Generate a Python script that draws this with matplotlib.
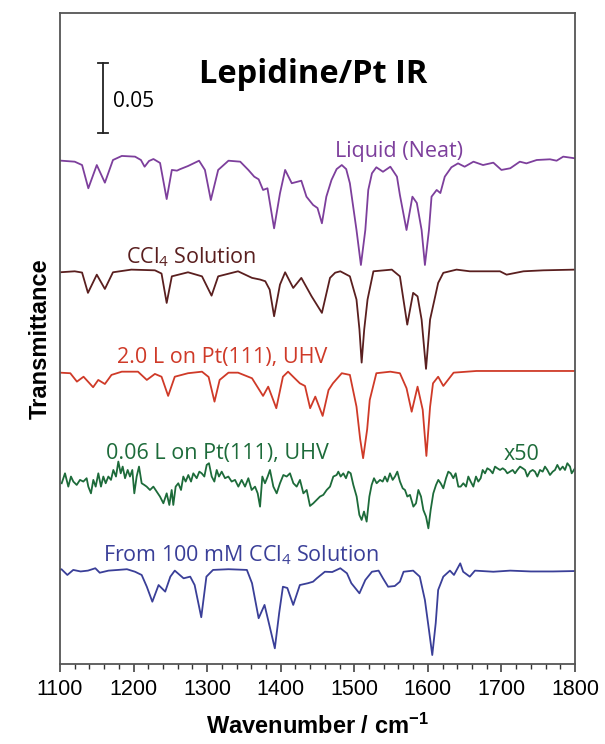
import numpy as np
import matplotlib.pyplot as plt
from matplotlib.ticker import MultipleLocator

plt.rcParams['mathtext.fontset'] = 'custom'
plt.rcParams['mathtext.rm'] = 'Open Sans'
plt.rcParams['mathtext.bf'] = 'Liberation Sans:bold'
plt.rcParams['mathtext.default'] = 'regular'

# transmittance change in units of 1e-3, relative to each trace baseline
liquid_wn = [1100, 1102, 1120, 1130, 1138.5, 1150, 1161, 1172, 1184, 1202, 1210, 1215, 1221, 1227,
             1236, 1245, 1252, 1259, 1263, 1274, 1289, 1297, 1305, 1315, 1329, 1345, 1356, 1364,
             1370, 1376, 1382, 1391, 1399, 1406, 1415, 1428, 1435, 1444, 1450, 1456, 1462, 1469,
             1476, 1483, 1489, 1494, 1503, 1509, 1515, 1519, 1524, 1530, 1539, 1549, 1558, 1562, 1571, 1579, 1585,
             1591.5, 1596, 1601.5, 1605, 1612, 1617, 1623, 1632, 1641, 1650, 1662, 1675, 1689,
             1700, 1712, 1725, 1734, 1748, 1766, 1775, 1784, 1800]
liquid_dt = [-0.4, -0.5, -1.2, -3.6, -20.2, -3.6, -16.2, 0.0, 2.9, 2.4, 0.0, -4.8, -0.7, 0.7,
             -2.1, -27.9, -7.1, -7.6, -6.6, -4.3, -0.5, -7.1, -28.6, -7.1, -0.5, -1.2, -7.1, -11.9,
             -13.8, -21.4, -20.2, -48.8, -23.8, -7.1, -16.6, -14.8, -26.2, -32.1, -34.3, -45.2, -26.2, -14.3,
             -6.5, -3.6, -6.5, -16.6, -50, -75, -50, -21.4, -9.5, -5.2, -8.4, -4.8, -11.9, -25, -50, -26.2, -30.7,
             -50, -75, -50, -26.2, -21.4, -23.6, -11.9, -5.2, -2.4, -4.8, -1.2, -3.6, -1.9,
             -7.1, -5.9, -1.2, -2.4, 0.0, 0.5, -0.5, 2.4, 1.2]

ccl4_wn = [1100, 1120, 1130, 1138, 1150, 1161, 1172, 1197, 1229, 1238, 1245, 1252, 1274, 1293,
           1306, 1315, 1342, 1361, 1372, 1379, 1385, 1391, 1399, 1406, 1417, 1428, 1442, 1456,
           1467, 1474, 1481, 1494, 1503, 1507, 1510, 1513.5, 1518, 1526, 1551, 1562, 1572, 1580, 1586,
           1591.5, 1597.5, 1603, 1614, 1621, 1639, 1657, 1680, 1698, 1707, 1730, 1757, 1800]
ccl4_dt = [-1.2, -0.5, -1.4, -15.9, -2.9, -13.1, -1.2, 0.7, 0.2, -2.1, -23.1, -4.1, -1.2, -4.1,
           -17.9, -4.1, -0.5, -5.2, -6.4, -7.6, -13.6, -32.6, -10, -1.2, -12.4, -5.2, -18.4, -30.2,
           -5.2, -1.5, -0.5, -4.1, -20.7, -42, -65.7, -42, -20.7, -0.5, 0.7, -4.1, -38.6, -15.9, -18.4,
           -35, -70.2, -35, -8.8, -1.6, 0.7, -0.5, -0.5, -0.5, -2.9, -0.5, 0.2, 0.7]

uhv2_wn = [1100, 1114, 1123, 1132, 1145, 1152, 1161, 1170, 1184, 1206, 1218, 1229, 1238, 1247,
           1256, 1274, 1293, 1302, 1310, 1317, 1329, 1342, 1361, 1376, 1383, 1394, 1403, 1410,
           1419, 1426, 1433, 1440, 1447, 1457, 1465, 1471, 1483, 1494, 1503, 1508, 1512, 1517.5,
           1521, 1530, 1549, 1562, 1571, 1578, 1586, 1593, 1598, 1603, 1607, 1614, 1621, 1635,
           1666, 1800]
uhv2_dt = [-0.5, -0.9, -6.9, -3.4, -10.9, -5.7, -8.6, -2.1, 0.2, 0.2, -5.7, -1.4, -3.4, -17.1,
           -3.4, -0.9, 0.2, -3.6, -21.2, -5.7, -0.5, -0.5, -4.5, -17.1, -10.5, -25.9, -3.4, 0.2,
           -4.5, -8.1, -10, -25.9, -17.6, -31.4, -12.9, -8.1, -0.9, -2.1, -24.8, -48, -61.6, -41,
           -20, -0.9, 0.2, -0.9, -11.6, -28.4, -10.5, -27, -60, -25, -8.1, -3.4, -10, -0.5,
           0.7, 0.7]

# 0.06 L spectrum, shown x50
uhv006_wn = [1102.3, 1106.8, 1111.3, 1114.9, 1118.1, 1122.7, 1127.2, 1131.7, 1136.2, 1138.5, 1142.1,
             1145.3, 1148.5, 1152.1, 1155.7, 1158.9, 1162.1, 1165.7, 1169.3, 1172.5, 1176.1, 1179.3,
             1182.5, 1185.2, 1188.4, 1192.0, 1195.1, 1198.3, 1201.0, 1204.2, 1207.4, 1211.0, 1214.6,
             1217.8, 1222.3, 1226.9, 1231.4, 1235.9, 1240.5, 1245.0, 1248.6, 1251.8, 1254.0, 1257.2,
             1260.8, 1264.5, 1267.6, 1270.8, 1274.4, 1278.1, 1281.2, 1285.8, 1289.4, 1292.6, 1296.2,
             1299.4, 1302.5, 1306.2, 1309.8, 1313.0, 1316.1, 1319.8, 1324.3, 1328.8, 1333.3, 1337.9,
             1342.4, 1346.9, 1351.5, 1356.0, 1360.5, 1365.1, 1368.7, 1371.9, 1375.0, 1378.6, 1382.3,
             1385.4, 1390.0, 1394.5, 1399.0, 1403.6, 1408.1, 1412.6, 1417.2, 1421.7, 1426.2, 1430.8,
             1435.3, 1439.8, 1444.3, 1448.9, 1453.4, 1457.9, 1462.5, 1467.0, 1471.5, 1476.0, 1478.3,
             1481.5, 1485.1, 1488.7, 1491.9, 1495.1, 1498.7, 1503.2, 1506.9, 1510.0, 1513.2, 1516.8,
             1520.5, 1523.6, 1526.8, 1530.4, 1535.0, 1538.6, 1541.7, 1544.9, 1548.5, 1552.2, 1555.3,
             1558.5, 1562.1, 1565.8, 1568.9, 1572.1, 1575.7, 1580.3, 1583.9, 1587.1, 1590.7, 1593.9,
             1597.5, 1600.7, 1603.8, 1607.4, 1611.1, 1614.2, 1617.4, 1621.0, 1624.7, 1627.8, 1631.0,
             1634.6, 1637.8, 1641.4, 1644.6, 1648.2, 1651.9, 1655.0, 1658.2, 1661.8, 1665.4, 1668.6,
             1671.8, 1674.5, 1677.7, 1680.8, 1684.5, 1688.1, 1691.3, 1694.4, 1698.1, 1701.7, 1704.9,
             1708.0, 1711.7, 1715.3, 1718.5, 1721.6, 1725.3, 1728.9, 1732.1, 1735.2, 1738.8, 1742.5,
             1745.6, 1748.8, 1752.4, 1756.1, 1759.2, 1762.4, 1766.0, 1769.7, 1772.8, 1776.0, 1779.6,
             1783.3, 1786.4, 1789.6, 1793.2, 1795.5, 1800.0]
uhv006_dt = [-3.8, 3.3, -6.2, 1.0, -2.6, -5.0, -1.4, -2.6, -0.2, -6.2, -11.0,
             -1.4, -6.2, 3.3, -6.2, 1.0, -3.8, 1.0, -1.4, 5.7, 1.0, 11.7,
             3.3, 8.1, -0.2, 5.7, 1.0, 5.7, -11.0, 1.0, 8.1, -3.8, -5.0,
             -6.2, -8.6, -6.2, -9.8, -13.3, -18.1, -11.0, -19.3, -8.6, -19.3, -6.2,
             -3.8, -8.6, 1.0, -2.6, 2.1, -2.6, 3.3, -0.2, 4.5, 3.3, 1.0,
             9.3, 10.5, 1.0, -2.6, 5.7, 1.0, 4.5, -0.2, 1.0, -2.6, -1.4,
             -6.2, -1.4, -6.2, -0.2, -8.6, -6.2, -11.0, -20.5, 1.0, -3.8, 1.0,
             5.7, -6.2, -11.0, -3.8, 2.1, 1.0, 3.3, -3.8, -6.2, -1.4, -11.0,
             -8.6, -20.0, -18.1, -15.7, -13.3, -12.1, -8.6, -6.2, 1.0, 2.1, 4.5,
             1.0, 3.3, -0.2, 4.5, 3.3, -5.0, -13.3, -26.4, -30.0, -24.0, -31.2,
             -13.3, -5.0, -0.2, -3.8, -1.4, -2.6, 1.0, -2.6, 3.3, -1.4, 1.0,
             4.5, -2.6, -7.4, -8.6, -13.3, -12.1, -20.5, -18.1, -8.6, -13.3, -22.9,
             -27.6, -36.0, -22.9, -11.0, -5.0, -1.4, -3.8, -7.4, -0.2, 4.5, 3.3,
             -0.2, 3.3, -6.2, -6.2, -3.8, -6.2, 1.0, -2.6, -6.2, 1.0, -2.6,
             -0.2, 5.7, 3.3, 6.9, 5.7, 3.3, 8.1, 6.9, 5.7, 6.9, 5.7,
             3.3, 4.5, 5.7, 3.3, 5.7, 8.1, 6.9, 5.7, 1.0, 4.5, 5.7,
             4.5, 1.0, 5.7, 4.5, 8.1, 5.7, 2.1, 4.5, 5.7, 9.3, 5.7,
             8.1, 5.7, 10.5, 8.1, 3.3, 6.9]

sol100_wn = [1100, 1102, 1110, 1118, 1128, 1138, 1148, 1154, 1166, 1179, 1191, 1202, 1211, 1218,
             1225.5, 1234, 1243, 1250, 1256, 1268, 1277, 1283, 1292, 1299, 1308, 1329, 1354, 1361,
             1370, 1378, 1385, 1392, 1398, 1403, 1409, 1417, 1426, 1437, 1444, 1449, 1460, 1470,
             1481, 1490, 1496, 1507, 1515, 1524, 1533, 1539, 1546, 1555, 1562, 1567, 1580, 1589,
             1596, 1601.5, 1606, 1610.7, 1614, 1621, 1630, 1635.5, 1644, 1648, 1657, 1664, 1689,
             1712, 1740, 1770, 1800]
sol100_dt = [0.7, 0.9, -3.2, 0.4, -0.7, -0.1, 1.6, -1.6, -0.1, 0.4, 0.9, -0.9, -3.2, -11.6,
             -22.3, -10.4, -15.1, -4.4, -0.1, -5.6, -4.4, -10.4, -33.4, -4.4, 0.4, 0.9, 0.4, -9.1,
             -34.1, -24.6, -40, -55.6, -30, -11.6, -12.5, -24.6, -10.4, -9.1, -8.0, -5.6, -0.9, -1.1,
             1.6, -2.0, -9.1, -16.3, -6.8, -0.9, -0.1, -5.6, -11.6, -11.1, -8.0, -0.9, -0.1, -4.4,
             -21.1, -42.5, -60.4, -37.5, -13.9, -4.4, -0.1, -3.2, 5.1, -0.9, -4.4, -0.1, -0.9,
             -0.1, -0.7, -0.7, -0.4]

labels = ['Liquid (Neat)', 'CCl$_4$ Solution', '2.0 L on Pt(111), UHV',
          '0.06 L on Pt(111), UHV', 'From 100 mM CCl$_4$ Solution']
offsets = [360, 281, 208.6, 132.9, 66.8]
colors = ['#7d3f9c', '#5a1f1f', '#cf3a28', '#1d6b3a', '#3a3f98']
label_pos = [(1561, 362.4), (1278, 286.2), (1320, 214.8), (1314, 146.2), (1346.5, 73.1)]

spectra = [(liquid_wn, liquid_dt), (ccl4_wn, ccl4_dt), (uhv2_wn, uhv2_dt),
           (uhv006_wn, uhv006_dt), (sol100_wn, sol100_dt)]

fig = plt.figure(figsize=(6.05, 7.44), dpi=100)
ax = fig.add_axes([60 / 605, 1 - 664 / 744, 515 / 605, 651 / 744])

for (wn, dt), off, col, lab, (lx, ly) in zip(spectra, offsets, colors, labels, label_pos):
    ax.plot(wn, np.array(dt) + off, color=col, lw=1.3, solid_joinstyle='round')
    ax.text(lx, ly, lab, color=col, fontsize=15.5, family='Open Sans',
            ha='center', va='baseline')

ax.text(1727.5, 145.7, 'x50', color=colors[3], fontsize=15.5, family='Open Sans',
        ha='center', va='baseline')

# scale bar 0.05
ax.plot([1158.5, 1158.5], [379.3, 429.3], color='#222', lw=1.3)
ax.plot([1152, 1165], [429.3, 429.3], color='#222', lw=1.3)
ax.plot([1152, 1165], [379.3, 379.3], color='#222', lw=1.3)
ax.text(1172, 402, '0.05', fontsize=15, family='Open Sans', va='center', ha='left')

ax.text(1444, 421, 'Lepidine/Pt IR', fontsize=23.5, family='Open Sans', weight='bold',
        ha='center', va='center')

ax.set_xlim(1100, 1800)
ax.set_ylim(0, 465)
ax.xaxis.set_major_locator(MultipleLocator(100))
ax.xaxis.set_minor_locator(MultipleLocator(20))
ax.tick_params(axis='x', which='major', direction='out', length=6, width=1.1,
               labelsize=15.5, pad=5, colors='#333')
ax.tick_params(axis='x', which='minor', direction='out', length=3.5, width=1.0, colors='#333')
ax.tick_params(axis='x', labelcolor='black')
ax.set_yticks([])
for lbl in ax.get_xticklabels():
    lbl.set_family('Liberation Sans')
for sp in ax.spines.values():
    sp.set_color('#555')
    sp.set_linewidth(1.3)

ax.set_xlabel(r'Wavenumber / cm$^{\mathbf{-1}}$', fontsize=17, weight='bold',
              family='Liberation Sans', labelpad=10)
ax.set_ylabel('Transmittance', fontsize=17, weight='bold', family='Liberation Sans',
              labelpad=6)

fig.savefig('out.png', dpi=100)
